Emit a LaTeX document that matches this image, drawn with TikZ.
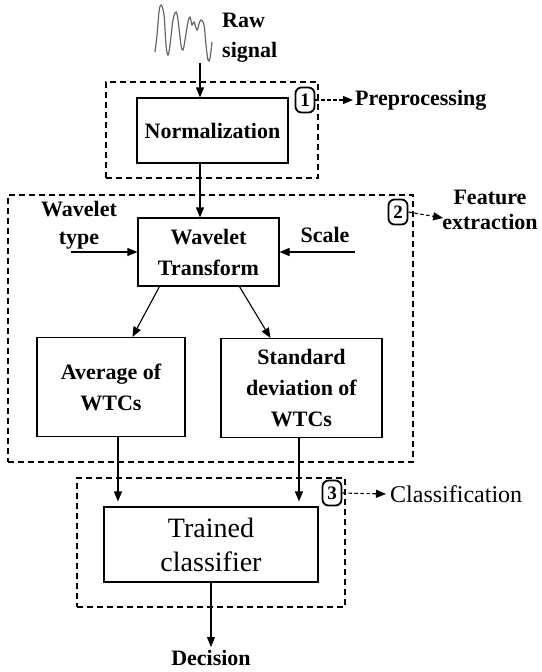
\documentclass[tikz,border=0pt]{standalone}
\usepackage{fontspec}
\setmainfont{Liberation Serif}
\usetikzlibrary{arrows.meta,calc}
\begin{document}
\begin{tikzpicture}[x=1pt,y=-1pt,
  box/.style={draw,line width=1.1pt,rectangle,inner sep=0pt,align=center,font=\bfseries\fontsize{22}{31}\selectfont},
  grp/.style={draw,line width=1.1pt,dash pattern=on 6pt off 4pt,rectangle,inner sep=0pt},
  arr/.style={-{Triangle[length=10pt,width=8pt]},line width=1.1pt},
  darr/.style={-{Triangle[length=10pt,width=8pt]},line width=1.1pt,dash pattern=on 3.5pt off 2.5pt},
  num/.style={draw,line width=1.8pt,rounded corners=6pt,minimum width=19pt,minimum height=25pt,inner sep=0pt,font=\bfseries\fontsize{19}{19}\selectfont},
  lbl/.style={font=\bfseries\fontsize{22}{28}\selectfont,align=center,inner sep=0pt}
]
\useasboundingbox (0,0) rectangle (541,672);

% raw signal waveform
\draw[gray!80!black,line width=1.2pt] plot[smooth,tension=0.6] coordinates {
 (155,52) (157,35) (159,12) (161,5) (164,15) (166,45) (168,55) (170,45) (173,20)
 (176,12) (178,20) (181,45) (183,50) (185,40) (188,22) (190,17) (192,25) (194,22)
 (197,30) (199,24) (201,20) (204,25) (206,45) (208,60) (210,58) (212,42)};
\node[lbl,align=left,anchor=west,font=\bfseries\fontsize{22}{30}\selectfont] (raw) at (222,38) {Raw\\signal};
\coordinate (ws) at (200,63);

% groups
\node[grp,minimum width=212pt,minimum height=96pt] (g1) at (212,130) {};
\node[grp,minimum width=405pt,minimum height=267pt] (g2) at (210.5,328.5) {};
\node[grp,minimum width=268pt,minimum height=129pt] (g3) at (211,542.5) {};

% boxes
\node[box,minimum width=151pt,minimum height=65pt] (norm) at (212.5,130.5) {Normalization};
\node[box,minimum width=141pt,minimum height=68pt] (wt) at (208.5,252) {Wavelet\\Transform};
\node[box,minimum width=148pt,minimum height=99pt] (avg) at (111,387) {Average of\\WTCs};
\node[box,minimum width=161pt,minimum height=99pt] (std) at (301.5,388) {Standard\\deviation of\\WTCs};
\node[box,minimum width=214pt,minimum height=75pt,font=\fontsize{28}{34}\selectfont] (tc) at (211,544.5) {Trained\\classifier};

% side labels
\node[lbl] (wtype) at (79,225) {Wavelet\\type};
\node[lbl] (scale) at (325,235) {Scale};
\coordinate (wtin) at (71,252);
\coordinate (scin) at (355,252);

% stage markers
\node[num] (n1) at (305,100) {1};
\node[num] (n2) at (398,212) {2};
\node[num] (n3) at (332,493) {3};
\node[lbl,anchor=west] (pre) at (355,100) {Preprocessing};
\node[lbl,font=\bfseries\fontsize{22}{25}\selectfont] (fe) at (490,210) {Feature\\extraction};
\node[lbl,anchor=west,font=\fontsize{24}{28}\selectfont] (cls) at (390,494) {Classification};
\node[lbl,anchor=north] (dec) at (211,650) {Decision};

% connectors
\draw[arr] (ws) -- (ws |- norm.north);
\draw[arr] (norm.south -| ws) -- (wt.north -| ws);
\draw[arr] (wtin) -- (wtin -| wt.west);
\draw[arr] (scin) -- (scin -| wt.east);
\draw[arr] ($(wt.south west)+(22,0)$) -- ($(avg.north west)+(96,0)$);
\draw[arr] ($(wt.south west)+(102,0)$) -- ($(std.north west)+(50,0)$);
\draw[arr,shorten >=5pt] ($(avg.south west)+(81.5,0)$) -- ($(tc.north west)+(14.5,0)$);
\draw[arr,shorten >=5pt] ($(std.south west)+(78.5,0)$) -- ($(tc.north west)+(195.5,0)$);
\draw[arr,shorten >=3pt] (tc.south) -- (dec.north);
\draw[darr] (n1.east) -- ($(pre.west)+(-2,0)$);
\draw[darr] (n2.east) -- ($(fe.south west)+(1,-12)$);
\draw[darr] (n3.east) -- ($(cls.west)+(-4,0)$);
\end{tikzpicture}
\end{document}
